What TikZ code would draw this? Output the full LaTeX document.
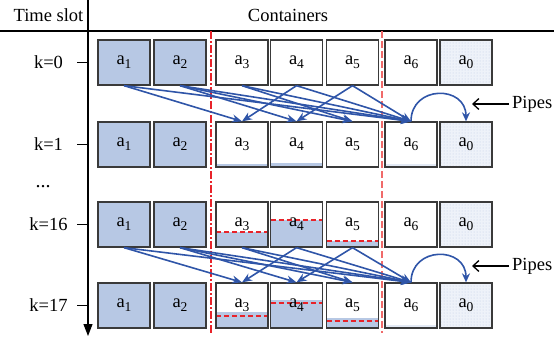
\documentclass[tikz,border=0pt]{standalone}
\usepackage{fontspec}
\setmainfont{Liberation Serif}
\newfontfamily\tnr{Liberation Serif}
\usetikzlibrary{arrows.meta,patterns}
\definecolor{boxblue}{HTML}{B7C8E4}
\definecolor{arrblue}{HTML}{2F55A8}
\definecolor{zerofill}{HTML}{EEF2F9}
\definecolor{dotc}{HTML}{BFCDE6}
\definecolor{palefill}{HTML}{E3EAF5}
\definecolor{dred}{HTML}{E8232A}
\definecolor{sred}{HTML}{F06A6A}
\definecolor{bord}{HTML}{3A3A3A}
\newcommand\sbs[1]{\raisebox{-0.22em}{\fontsize{13.5}{13.5}\selectfont #1}}
\begin{document}
\begin{tikzpicture}[x=1pt,y=-1pt,
  font=\tnr\fontsize{18.5}{20}\selectfont,
  cbox/.style={draw=bord, line width=1.3pt, minimum width=52pt, minimum height=45pt, inner sep=0pt, fill=white},
  full/.style={cbox, fill=boxblue},
  zero/.style={cbox, fill=none, preaction={fill=zerofill}, pattern=dots, pattern color=dotc},
  lvl/.style n args={2}{path picture={\fill[#2] (path picture bounding box.south west) rectangle ([yshift=#1pt]path picture bounding box.south east);}},
  dlvl/.style n args={2}{path picture={\fill[boxblue] (path picture bounding box.south west) rectangle ([yshift=#1pt]path picture bounding box.south east);
     \draw[dred, line width=1.2pt, dash pattern=on 5pt off 3pt] ([yshift=#2pt]path picture bounding box.south west) -- ([yshift=#2pt]path picture bounding box.south east);}},
  flow/.style={arrblue, line width=1.6pt, -{Stealth[length=10pt,width=8pt]}},
  pipe/.style={arrblue, line width=1.6pt, -{Stealth[length=9pt,width=8pt]}},
  klabel/.style={anchor=center, inner sep=0pt},
  tick/.style={line width=1.1pt}
]
\useasboundingbox (0,0) rectangle (554,343);

% header
\node[klabel] (ts) at (48.5,15) {Time slot};
\node[klabel] (ct) at (288,15) {Containers};
\draw[line width=1.2pt] (0,31) -- (554,31);
\coordinate (axtop) at (88,0);
\coordinate (axbot) at (88,336);
\draw[line width=1.2pt, -{Triangle[length=12pt,width=9pt]}] (axtop) -- (axbot);

% red separators
\coordinate (s1t) at (211,31); \coordinate (s1b) at (211,333);
\coordinate (s2t) at (382,31); \coordinate (s2b) at (382,333);
\draw[dred, line width=1.3pt, dash pattern=on 8pt off 2pt on 2pt off 2pt] (s1t) -- (s1b);
\draw[sred, line width=2.4pt, dash pattern=on 7pt off 3pt] (s2t) -- (s2b);

% row labels and ticks
\foreach \r/\y/\t in {0/62.5/{k=0}, 1/144.5/{k=1}, 16/224.5/{k=16}, 17/305.5/{k=17}}{
  \node[klabel] (k\r) at (48.5,\y) {\t};
  \coordinate (tk\r) at (77,\y);
  \draw[tick] (tk\r) -- (88,\y);
}
\node[anchor=base, inner sep=0pt, font=\tnr\fontsize{20}{20}\selectfont] (dots) at (43,187) {...};

% boxes row k=0
\node[full] (b0-1) at (124,62.5) {a\sbs{1}};
\node[full] (b0-2) at (180,62.5) {a\sbs{2}};
\node[cbox] (b0-3) at (242,62.5) {a\sbs{3}};
\node[cbox] (b0-4) at (296.5,62.5) {a\sbs{4}};
\node[cbox] (b0-5) at (352.5,62.5) {a\sbs{5}};
\node[cbox] (b0-6) at (411,62.5) {a\sbs{6}};
\node[zero] (b0-0) at (466,62.5) {a\sbs{0}};
% row k=1
\node[full] (b1-1) at (124,144.5) {a\sbs{1}};
\node[full] (b1-2) at (180,144.5) {a\sbs{2}};
\node[cbox, lvl={3}{boxblue}] (b1-3) at (242,144.5) {a\sbs{3}};
\node[cbox, lvl={4}{boxblue}] (b1-4) at (296.5,144.5) {a\sbs{4}};
\node[cbox] (b1-5) at (352.5,144.5) {a\sbs{5}};
\node[cbox, lvl={3}{palefill}] (b1-6) at (411,144.5) {a\sbs{6}};
\node[zero] (b1-0) at (466,144.5) {a\sbs{0}};
% row k=16
\node[full] (b16-1) at (124,224.5) {a\sbs{1}};
\node[full] (b16-2) at (180,224.5) {a\sbs{2}};
\node[cbox, dlvl={15}{15}] (b16-3) at (242,224.5) {a\sbs{3}};
\node[cbox, dlvl={27}{27}] (b16-4) at (296.5,224.5) {a\sbs{4}};
\node[cbox, dlvl={6}{6}] (b16-5) at (352.5,224.5) {a\sbs{5}};
\node[cbox] (b16-6) at (411,224.5) {a\sbs{6}};
\node[zero] (b16-0) at (466,224.5) {a\sbs{0}};
% row k=17
\node[full] (b17-1) at (124,305.5) {a\sbs{1}};
\node[full] (b17-2) at (180,305.5) {a\sbs{2}};
\node[cbox, dlvl={16}{12}] (b17-3) at (242,305.5) {a\sbs{3}};
\node[cbox, dlvl={28}{25}] (b17-4) at (296.5,305.5) {a\sbs{4}};
\node[cbox, dlvl={10}{7}] (b17-5) at (352.5,305.5) {a\sbs{5}};
\node[cbox, lvl={3}{palefill}] (b17-6) at (411,305.5) {a\sbs{6}};
\node[zero] (b17-0) at (466,305.5) {a\sbs{0}};

% flows
\foreach \a/\b in {0/1, 16/17}{
  \foreach \s/\t in {1/3, 1/6, 2/4, 2/5, 2/6, 3/5, 3/6, 4/3, 4/6, 5/4, 5/6}{
    \draw[flow] (b\a-\s.south) -- (b\b-\t.north);
  }
  \draw[pipe] (b\b-6.north) to[out=90,in=90,looseness=1.7] (b\b-0.north);
}

% pipes labels
\node[anchor=west, inner sep=0pt] (p1) at (512,104) {Pipes};
\coordinate (p1t) at (472,104);
\draw[line width=1.3pt, -{Straight Barb[length=6pt,width=11pt]}] ([xshift=-3pt]p1.west) -- (p1t);
\node[anchor=west, inner sep=0pt] (p2) at (512,266) {Pipes};
\coordinate (p2t) at (472,266);
\draw[line width=1.3pt, -{Straight Barb[length=6pt,width=11pt]}] ([xshift=-3pt]p2.west) -- (p2t);
\end{tikzpicture}
\end{document}
